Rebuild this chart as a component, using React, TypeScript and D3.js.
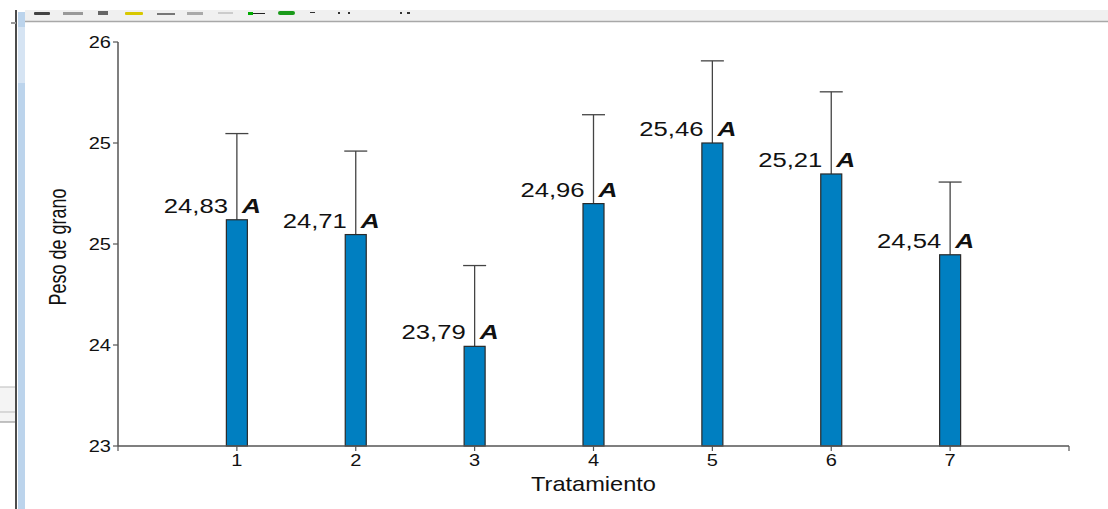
import React from "react";
import * as d3 from "d3";

// ---- data ----
const categories = [1, 2, 3, 4, 5, 6, 7];
const meanLabels = ["24,83", "24,71", "23,79", "24,96", "25,46", "25,21", "24,54"];
const groupLetters = ["A", "A", "A", "A", "A", "A", "A"];
// drawn bar heights (axis units) and error-bar tops
const barValues = [24.68, 24.57, 23.74, 24.8, 25.25, 25.02, 24.42];
const errorTops = [25.32, 25.19, 24.34, 25.46, 25.86, 25.63, 24.96];
const yTickValues = [23, 23.75, 24.5, 25.25, 26];
const yTickLabels = ["23", "24", "25", "25", "26"];
const xTitle = "Tratamiento";
const yTitle = "Peso de grano";

const W = 1108;
const H = 509;
const FONT = "'Liberation Sans', Arial, sans-serif";
const SX = 1.25;

export default function App() {
  const x = d3.scaleLinear().domain([0, 8]).range([118, 1069]);
  const y = d3.scaleLinear().domain([23, 26]).range([446, 42]);
  const barW = 21;
  const axisColor = "#555";
  const y0 = y(23);

  return (
    <svg
      width={W}
      height={H}
      style={{ position: "absolute", left: 0, top: 0, background: "#fff" }}
      fontFamily={FONT}
    >
      {/* window chrome */}
      <rect x={0} y={0} width={W} height={509} fill="#fff" />
      <rect x={25} y={10} width={W - 25} height={11} fill="#f0f0f0" />
      <line x1={25} x2={W} y1={21.5} y2={21.5} stroke="#a8a8a8" strokeWidth={1.5} />
      <g>
        <rect x={34} y={12} width={16} height={3} fill="#444" rx={1} />
        <rect x={63} y={12} width={20} height={3} fill="#999" />
        <rect x={98} y={11} width={10} height={4} fill="#666" />
        <rect x={125} y={12} width={18} height={3} fill="#d8c800" rx={1} />
        <rect x={157} y={13} width={18} height={2} fill="#777" />
        <rect x={187} y={12} width={16} height={3} fill="#aaa" />
        <rect x={218} y={12} width={15} height={2} fill="#ccc" />
        <rect x={248} y={12} width={5} height={3} fill="#0a0" />
        <rect x={253} y={13} width={12} height={1} fill="#222" />
        <rect x={278} y={11} width={17} height={4} fill="#1a9a1a" rx={2} />
        <rect x={310} y={12} width={5} height={1} fill="#333" />
        <rect x={338} y={12} width={2} height={2} fill="#333" />
        <rect x={348} y={12} width={2} height={2} fill="#333" />
        <rect x={400} y={12} width={2} height={2} fill="#333" />
        <rect x={407} y={12} width={3} height={2} fill="#333" />
      </g>
      <line x1={16} x2={16} y1={10} y2={H} stroke="#111" strokeWidth={1.5} />
      <rect x={18} y={12} width={7} height={H - 12} fill="#bcd4ec" />
      <rect x={18} y={27} width={7} height={56} fill="#d6e4f3" />
      <line x1={11} x2={16} y1={23} y2={23} stroke="#999" strokeWidth={2} />
      <rect x={0} y={387} width={15} height={35} fill="#f4f4f4" />
      <line x1={0} x2={15} y1={387} y2={387} stroke="#bbb" />
      <line x1={0} x2={15} y1={412} y2={412} stroke="#bbb" />
      <line x1={0} x2={15} y1={422} y2={422} stroke="#888" />

      {/* error bars */}
      {categories.map((c, i) => (
        <g key={"e" + c} stroke="#444" strokeWidth={1.3}>
          <line x1={x(c)} x2={x(c)} y1={y(barValues[i])} y2={y(errorTops[i])} />
          <line x1={x(c) - barW / 2 - 1} x2={x(c) + barW / 2 + 1} y1={y(errorTops[i])} y2={y(errorTops[i])} />
        </g>
      ))}

      {/* bars */}
      {categories.map((c, i) => (
        <rect
          key={"b" + c}
          x={x(c) - barW / 2}
          y={y(barValues[i])}
          width={barW}
          height={y0 - y(barValues[i])}
          fill="#007fc1"
          stroke="#2a2a2a"
          strokeWidth={1.2}
        />
      ))}

      {/* value labels */}
      {categories.map((c, i) => {
        const by = y(barValues[i]) - 7;
        return (
          <g key={"l" + c}>
            <text
              transform={`translate(${x(c) - 9},${by}) scale(${SX},1)`}
              textAnchor="end"
              fontSize={20.5}
              fill="#111"
            >
              {meanLabels[i]}
            </text>
            <text
              transform={`translate(${x(c) + 5},${by}) scale(${SX},1)`}
              fontSize={21}
              fontWeight="bold"
              fontStyle="italic"
              fill="#111"
            >
              {groupLetters[i]}
            </text>
          </g>
        );
      })}

      {/* axes */}
      <line x1={118} x2={118} y1={y(26)} y2={y0} stroke={axisColor} strokeWidth={1.5} />
      <line x1={118} x2={x(8)} y1={y0} y2={y0} stroke={axisColor} strokeWidth={1.5} />
      {yTickValues.map((v, i) => (
        <g key={"yt" + i}>
          <line x1={113} x2={118} y1={y(v)} y2={y(v)} stroke={axisColor} strokeWidth={1.2} />
          <text
            transform={`translate(111,${y(v) + 5.5}) scale(${SX},1)`}
            textAnchor="end"
            fontSize={16}
            fill="#111"
          >
            {yTickLabels[i]}
          </text>
        </g>
      ))}
      {d3.range(0, 9).map((v) => (
        <line key={"xt" + v} x1={x(v)} x2={x(v)} y1={y0} y2={y0 + 5} stroke={axisColor} strokeWidth={1.2} />
      ))}
      {categories.map((c) => (
        <text
          key={"xl" + c}
          transform={`translate(${x(c)},${y0 + 20}) scale(${SX},1)`}
          textAnchor="middle"
          fontSize={16}
          fill="#111"
        >
          {c}
        </text>
      ))}

      {/* titles */}
      <text
        transform={`translate(${x(4)},491) scale(1.18,1)`}
        textAnchor="middle"
        fontSize={20}
        fill="#111"
      >
        {xTitle}
      </text>
      <text
        transform={`translate(66,247) rotate(-90) scale(1,1.3)`}
        textAnchor="middle"
        fontSize={18}
        fill="#111"
      >
        {yTitle}
      </text>
    </svg>
  );
}
